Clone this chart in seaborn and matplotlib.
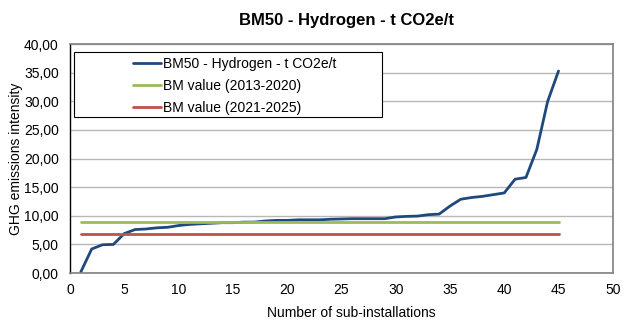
import numpy as np
import pandas as pd
import matplotlib
matplotlib.use("Agg")
import matplotlib.pyplot as plt
import seaborn as sns
from matplotlib.patches import Rectangle

# data
installations = list(range(1, 46))
intensity = [0.2, 4.2, 4.95, 5.0, 6.9, 7.6, 7.7, 7.9, 8.0, 8.3,
             8.5, 8.6, 8.7, 8.8, 8.8, 8.9, 8.9, 9.1, 9.2, 9.2,
             9.3, 9.3, 9.3, 9.4, 9.45, 9.5, 9.5, 9.5, 9.5, 9.8,
             9.9, 9.95, 10.2, 10.3, 11.7, 12.9, 13.2, 13.4, 13.7, 14.0,
             16.4, 16.7, 21.6, 30.0, 35.3]
bm_2013_2020 = 8.85
bm_2021_2025 = 6.84
series_label = "BM50 - Hydrogen - t CO2e/t"
bm_labels = ["BM value (2013-2020)", "BM value (2021-2025)"]

df = pd.DataFrame({"x": installations, "y": intensity})
df["bm1"] = bm_2013_2020
df["bm2"] = bm_2021_2025

sns.set_style("white")
plt.rcParams["font.family"] = ["Liberation Sans", "DejaVu Sans"]
plt.rcParams["text.color"] = "black"
plt.rcParams["axes.labelcolor"] = "black"
plt.rcParams["xtick.color"] = "black"
plt.rcParams["ytick.color"] = "black"

fig = plt.figure(figsize=(6.39, 3.22), dpi=100)
ax = fig.add_axes([0.1095, 0.152, 0.8495, 0.711])

sns.lineplot(data=df, x="x", y="y", ax=ax, color="#1f497d", lw=2, label=series_label)
sns.lineplot(data=df, x="x", y="bm1", ax=ax, color="#9bbb59", lw=2, label=bm_labels[0])
sns.lineplot(data=df, x="x", y="bm2", ax=ax, color="#c0504d", lw=2, label=bm_labels[1])

ax.set_xlim(0, 50)
ax.set_ylim(0, 40)
ax.set_xticks(range(0, 51, 5))
ax.set_yticks(range(0, 41, 5))
ax.set_yticklabels([f"{v:.2f}".replace(".", ",") for v in range(0, 41, 5)])
ax.tick_params(labelsize=10, length=0)
ax.tick_params(axis="x", pad=7)
ax.tick_params(axis="y", pad=8)
ax.yaxis.grid(True, color="#b8b8b8", lw=1)
ax.set_axisbelow(True)

for s in ["top", "right", "bottom"]:
    ax.spines[s].set_color("#808080")
    ax.spines[s].set_linewidth(1.2)
ax.spines["left"].set_color("black")
ax.spines["left"].set_linewidth(1)

ax.set_xlabel("Number of sub-installations", fontsize=10)
ax.xaxis.set_label_coords(0.518, -0.145)
ax.set_ylabel("GHG emissions intensity", fontsize=10)
ax.yaxis.set_label_coords(-0.086, 0.5)
ax.set_title("BM50 - Hydrogen - t CO2e/t", fontsize=12, fontweight="bold", pad=14, x=0.51)

# legend box drawn separately so the entries sit indented like the original
box = Rectangle((0.0074, 0.681), 0.568, 0.284, transform=ax.transAxes,
                facecolor="white", edgecolor="black", lw=0.8, zorder=5)
ax.add_patch(box)
leg = ax.legend(loc="upper left", bbox_to_anchor=(0.117, 0.945), frameon=False,
                fontsize=10, handlelength=1.95, handletextpad=0.2,
                borderpad=0, borderaxespad=0, labelspacing=0.58)
leg.set_zorder(6)

fig.savefig("out.png", dpi=100, facecolor="white")
